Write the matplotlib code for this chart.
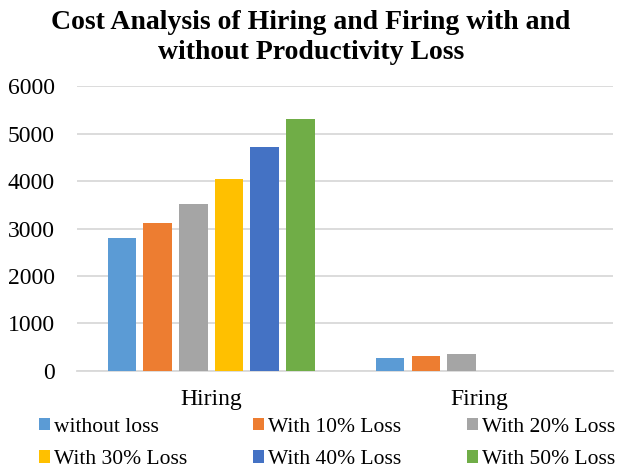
import numpy as np
import matplotlib.pyplot as plt

plt.rcParams['font.family'] = ['Liberation Serif', 'DejaVu Serif']

# data
categories = ['Hiring', 'Firing']
series = ['without loss', 'With 10% Loss', 'With 20% Loss',
          'With 30% Loss', 'With 40% Loss', 'With 50% Loss']
values = [
    [2810, 275],
    [3125, 303],
    [3520, 345],
    [4050, 0],
    [4725, 0],
    [5320, 0],
]
colors = ['#5B9BD5', '#ED7D31', '#A5A5A5', '#FFC000', '#4472C4', '#70AD47']

fig = plt.figure(figsize=(6.22, 4.70), dpi=100)
ax = fig.add_axes([0.124, 0.211, 0.862, 0.605])

x = np.arange(len(categories))
step = 0.133
width = 0.106
handles = []
for i, (name, vals) in enumerate(zip(series, values)):
    b = ax.bar(x + (i - 2.5) * step, vals, width, color=colors[i], label=name, zorder=3)
    handles.append(b)

ax.set_xlim(-0.5, 1.5)
ax.set_ylim(0, 6000)
ax.set_yticks(range(0, 6001, 1000))
ax.set_xticks(x)
ax.set_xticklabels(categories)
ax.tick_params(axis='both', length=0, labelsize=17, colors='black')
ax.tick_params(axis='y', pad=16)
ax.tick_params(axis='x', pad=13)
ax.yaxis.grid(True, color='#D9D9D9', linewidth=1.3, zorder=0)
for s in ['top', 'right', 'left']:
    ax.spines[s].set_visible(False)
ax.spines['bottom'].set_color('#D9D9D9')
ax.spines['bottom'].set_linewidth(1.3)

fig.suptitle('Cost Analysis of Hiring and Firing with and\nwithout Productivity Loss',
             fontsize=20, fontweight='bold', y=1 - 10 / 470, va='top', linespacing=1.25)

# legend filled row by row
order = [0, 3, 1, 4, 2, 5]
leg = fig.legend([handles[k] for k in order], [series[k] for k in order],
                 loc='lower left', bbox_to_anchor=(39 / 622, 0.002), ncol=3,
                 frameon=False, fontsize=15.5, handlelength=0.5, handleheight=0.5,
                 handletextpad=0.2, columnspacing=3.05, labelspacing=0.62,
                 borderpad=0, borderaxespad=0)

fig.savefig('out.png', dpi=100)
